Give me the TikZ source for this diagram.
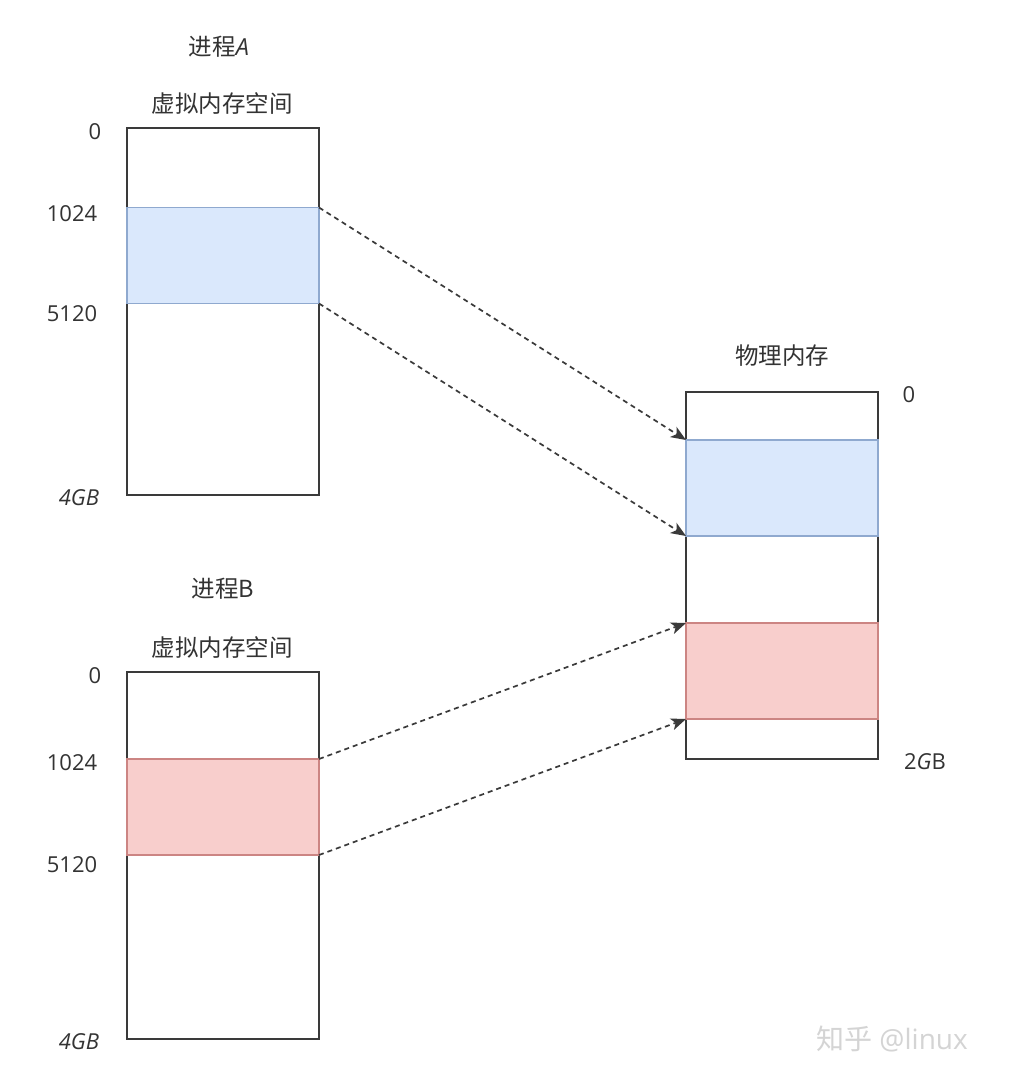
\documentclass[tikz,border=0pt]{standalone}
\usepackage{fontspec}
\setmainfont{Open Sans}
\newfontfamily\cjk{Noto Sans CJK SC}
\usetikzlibrary{arrows.meta}
\definecolor{txt}{HTML}{333333}
\definecolor{bluefill}{HTML}{DAE8FC}
\definecolor{bluedraw}{HTML}{8FA9CF}
\definecolor{redfill}{HTML}{F8CECC}
\definecolor{reddraw}{HTML}{CC8583}
\definecolor{linecol}{HTML}{3A3A3A}
\tikzset{
  memblock/.style={draw=linecol, line width=2pt, fill=white, minimum width=192pt, minimum height=367pt, inner sep=0pt, outer sep=0pt},
  blueband/.style={draw=bluedraw, line width=1.6pt, fill=bluefill, minimum width=192pt, minimum height=96pt, inner sep=0pt, outer sep=0pt},
  redband/.style={draw=reddraw, line width=1.6pt, fill=redfill, minimum width=192pt, minimum height=96pt, inner sep=0pt, outer sep=0pt},
  cjklabel/.style={text=txt, inner sep=0pt, font=\cjk\fontsize{23.5}{26}\selectfont},
  numlabel/.style={text=txt, inner sep=0pt, font=\fontsize{22}{25}\selectfont},
  mapline/.style={draw=linecol, line width=1.7pt, dash pattern=on 5pt off 4pt, -{Stealth[length=15pt,width=12pt,inset=4pt]}},
}
\begin{document}
\begin{tikzpicture}[x=1pt,y=-1pt]
\useasboundingbox[fill=white] (0,0) rectangle (1023,1082);
% process A
\node[cjklabel] (tA) at (219,47) {进程{\normalfont\itshape A}};
\node[cjklabel] (vA) at (222,104) {虚拟内存空间};
\node[memblock] (boxA) at (223,311.5) {};
\node[blueband] (bandA) at (223,255.5) {};
\node[numlabel] (a0) at (95,132) {0};
\node[numlabel] (a1) at (72,214) {1024};
\node[numlabel] (a2) at (72,314) {5120};
\node[numlabel] (a3) at (79,498) {\textit{4GB}};
% process B
\node[cjklabel] (tB) at (223,589) {进程B};
\node[cjklabel] (vB) at (222,648) {虚拟内存空间};
\node[memblock] (boxB) at (223,855.5) {};
\node[redband] (bandB) at (223,807) {};
\node[numlabel] (b0) at (95,676) {0};
\node[numlabel] (b1) at (72,763) {1024};
\node[numlabel] (b2) at (72,865) {5120};
\node[numlabel] (b3) at (79,1042) {\textit{4GB}};
% physical memory
\node[cjklabel] (tP) at (782,356) {物理内存};
\node[memblock] (boxP) at (782,575.5) {};
\node[blueband] (pblue) at (782,488) {};
\node[redband] (pred) at (782,671) {};
\node[numlabel] (p0) at (909,395) {0};
\node[numlabel] (p1) at (925,762) {2\textit{G}B};
% mappings
\draw[mapline] (bandA.north east) -- (pblue.north west);
\draw[mapline] (bandA.south east) -- (pblue.south west);
\draw[mapline] (bandB.north east) -- (pred.north west);
\draw[mapline] (bandB.south east) -- (pred.south west);
% watermark
\node[text=black!17, inner sep=0pt, font=\fontsize{28}{31}\selectfont] (wm) at (892,1039) {{\cjk 知乎} @linux};
\end{tikzpicture}
\end{document}
